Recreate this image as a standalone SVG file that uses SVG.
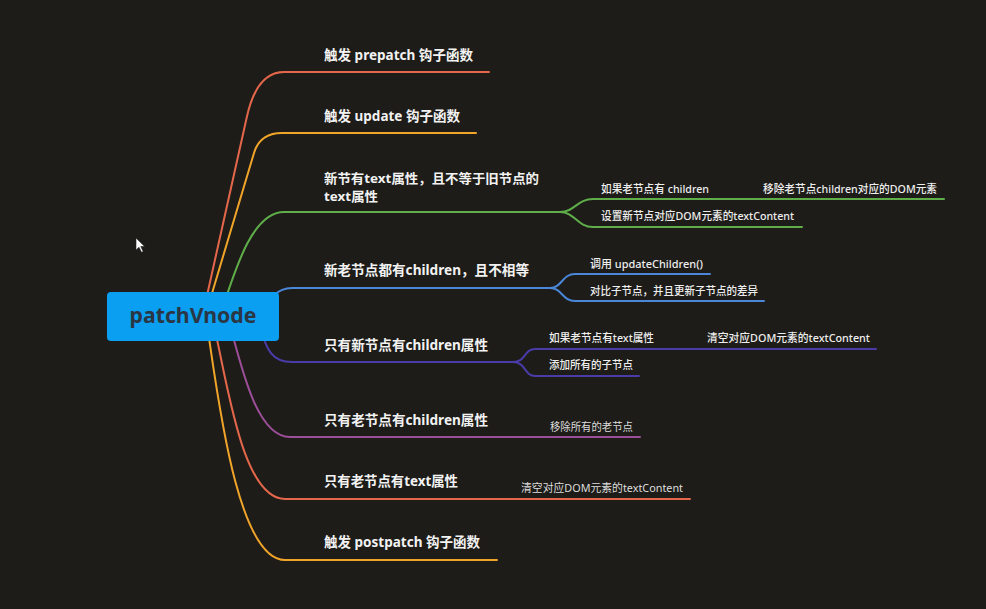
<svg xmlns="http://www.w3.org/2000/svg" width="986" height="609" viewBox="0 0 986 609">
<style>
.bg{fill:#1d1c18}
.ln{fill:none;stroke-width:2;stroke-linecap:round}
.red{stroke:#e5674b}
.yel{stroke:#f0a429}
.grn{stroke:#5fae4a}
.blu{stroke:#4a87d8}
.ind{stroke:#4a3ca8}
.pur{stroke:#9c4f98}
.t{font-family:"Noto Sans","Noto Sans CJK SC",sans-serif;font-weight:700;font-size:14px;fill:#f2f2f2}
.t2{font-size:13px}
.c{font-family:"Noto Sans","Noto Sans CJK SC",sans-serif;font-weight:500;font-size:11px;fill:#eeeeee}
.cl{font-family:"Noto Sans","Noto Sans CJK SC",sans-serif;font-weight:400;font-size:11px;fill:#dddddd}
.root{fill:#0b9ff2}
.rt{font-family:"Noto Sans","Noto Sans CJK SC",sans-serif;font-weight:700;font-size:21px;fill:#2a3644}
</style>
<rect class="bg" x="0" y="0" width="986" height="609"/>
<g id="connectors">
<path class="ln red" d="M202 318 L246.6 118 Q256.4 72 284 72 H489"/>
<path class="ln yel" d="M204.6 318 L254 153 Q260 133 282 133 H476"/>
<path class="ln grn" d="M220 316 C235 270 252 212 284 212 H560"/>
<path class="ln grn" d="M560 212 C575 212 577 199 593 199 H944"/>
<path class="ln grn" d="M560 212 C575 212 577 227 593 227 H802"/>
<path class="ln blu" d="M262 316 C270 300 275 288 292 288 H550"/>
<path class="ln blu" d="M550 288 C562 288 562 274 575 274 H710"/>
<path class="ln blu" d="M550 288 C562 288 562 301 575 301 H764"/>
<path class="ln ind" d="M260 325 C266 350 272 362 292 362 H513"/>
<path class="ln ind" d="M513 362 C526 362 524 349 535 349 H876"/>
<path class="ln ind" d="M513 362 C526 362 524 376 535 376 H639"/>
<path class="ln pur" d="M228 318 C240 360 255 437 290 437 H640"/>
<path class="ln red" d="M212 318 C226 370 240 499 285 499 H690"/>
<path class="ln yel" d="M206 318 C216 380 235 560 285 560 H497"/>
</g>
<g id="root">
<rect class="root" x="107" y="292" width="172" height="49" rx="4"/>
<text class="rt" x="193" y="323" text-anchor="middle" textLength="127" lengthAdjust="spacingAndGlyphs">patchVnode</text>
</g>
<g id="n1"><text class="t" x="324" y="60" textLength="149" lengthAdjust="spacingAndGlyphs">触发 prepatch 钩子函数</text></g>
<g id="n2"><text class="t" x="324" y="121" textLength="136" lengthAdjust="spacingAndGlyphs">触发 update 钩子函数</text></g>
<g id="n3">
<text class="t t2" x="324" y="183" textLength="215" lengthAdjust="spacingAndGlyphs">新节有text属性，且不等于旧节点的</text>
<text class="t t2" x="324" y="201" textLength="54" lengthAdjust="spacingAndGlyphs">text属性</text>
</g>
<g id="n3a"><text class="c" x="601" y="193" textLength="108" lengthAdjust="spacingAndGlyphs">如果老节点有 children</text></g>
<g id="n3a1"><text class="c" x="763" y="193" textLength="174" lengthAdjust="spacingAndGlyphs">移除老节点children对应的DOM元素</text></g>
<g id="n3b"><text class="c" x="601" y="220" textLength="193" lengthAdjust="spacingAndGlyphs">设置新节点对应DOM元素的textContent</text></g>
<g id="n4"><text class="t" x="324" y="275" textLength="205" lengthAdjust="spacingAndGlyphs">新老节点都有children，且不相等</text></g>
<g id="n4a"><text class="c" x="590" y="268" textLength="113" lengthAdjust="spacingAndGlyphs">调用 updateChildren()</text></g>
<g id="n4b"><text class="c" x="590" y="295" textLength="168" lengthAdjust="spacingAndGlyphs">对比子节点，并且更新子节点的差异</text></g>
<g id="n5"><text class="t" x="324" y="350" textLength="164" lengthAdjust="spacingAndGlyphs">只有新节点有children属性</text></g>
<g id="n5a"><text class="c" x="549" y="342" textLength="105" lengthAdjust="spacingAndGlyphs">如果老节点有text属性</text></g>
<g id="n5a1"><text class="c" x="707" y="342" textLength="163" lengthAdjust="spacingAndGlyphs">清空对应DOM元素的textContent</text></g>
<g id="n5b"><text class="c" x="549" y="369" textLength="84" lengthAdjust="spacingAndGlyphs">添加所有的子节点</text></g>
<g id="n6"><text class="t" x="324" y="425" textLength="164" lengthAdjust="spacingAndGlyphs">只有老节点有children属性</text></g>
<g id="n6a"><text class="cl" x="550" y="431" textLength="83" lengthAdjust="spacingAndGlyphs">移除所有的老节点</text></g>
<g id="n7"><text class="t" x="324" y="486" textLength="134" lengthAdjust="spacingAndGlyphs">只有老节点有text属性</text></g>
<g id="n7a"><text class="cl" x="521" y="492" textLength="162" lengthAdjust="spacingAndGlyphs">清空对应DOM元素的textContent</text></g>
<g id="n8"><text class="t" x="324" y="547" textLength="156" lengthAdjust="spacingAndGlyphs">触发 postpatch 钩子函数</text></g>
<path d="M136 238 L136 250 L139 247.2 L141.5 252.3 L143.2 251.5 L140.8 246.5 L144.6 246.5 Z" fill="#ffffff" stroke="#222" stroke-width="0.6"/>
</svg>
